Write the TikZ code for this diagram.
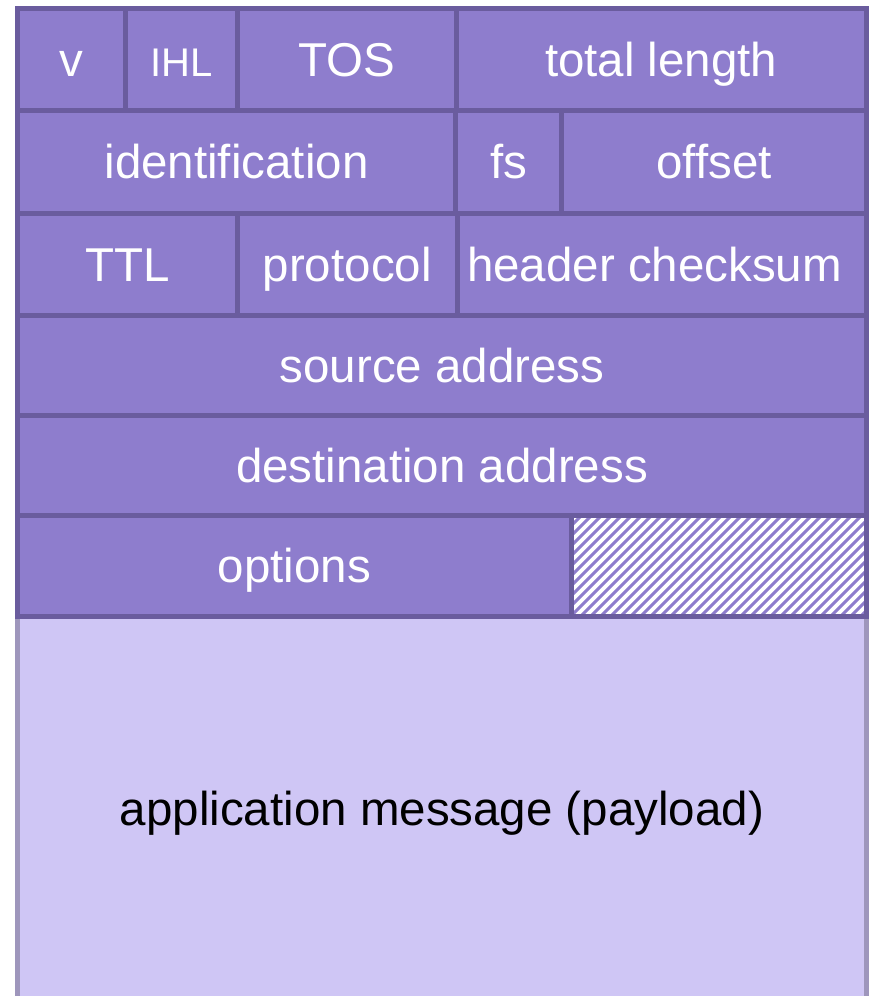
\documentclass[tikz,border=0pt]{standalone}
\usepackage{fontspec}
\setmainfont{Liberation Sans}
\definecolor{cellfill}{HTML}{8E7DCD}
\definecolor{celledge}{HTML}{6A5C9E}
\definecolor{payfill}{HTML}{CFC6F5}
\definecolor{payedge}{HTML}{9E96BC}
\begin{document}
\begin{tikzpicture}[x=1pt,y=-1pt,
  cell/.style={draw=celledge, fill=cellfill, line width=5pt, rectangle, inner sep=0pt, outer sep=0pt,
    anchor=north west, text=white, font=\fontsize{47.5}{57}\selectfont, text height=34pt, text depth=0pt},
  payload/.style={draw=payedge, fill=payfill, line width=5pt, rectangle, inner sep=0pt, outer sep=0pt,
    anchor=north west, text=black, font=\fontsize{47.5}{57}\selectfont, text height=34pt, text depth=0pt},
  hatchcell/.style={cell, fill=white,
    path picture={\foreach \i in {0,...,42}
      \draw[cellfill, line width=3pt] ([xshift=\i*10pt-120pt]path picture bounding box.south west) -- ++(150pt,150pt);}}
]
\useasboundingbox (0,0) rectangle (871,996);
% payload
\node[payload, minimum width=849pt, minimum height=384pt] (pay) at (17.5,616) {application message (payload)};
% row 1
\node[cell, minimum width=108pt, minimum height=102pt] (v) at (17.5,8) {v};
\node[cell, minimum width=112pt, minimum height=102pt, font=\fontsize{40}{48}\selectfont] (ihl) at (125.5,8) {IHL};
\node[cell, minimum width=218.5pt, minimum height=102pt] (tos) at (237.5,8) {TOS};
\node[cell, minimum width=410.5pt, minimum height=102pt] (len) at (456,8) {total length};
% row 2
\node[cell, minimum width=438pt, minimum height=103pt] (ident) at (17.5,110) {identification};
\node[cell, minimum width=106pt, minimum height=103pt] (fs) at (455.5,110) {fs};
\node[cell, minimum width=305pt, minimum height=103pt] (off) at (561.5,110) {offset};
% row 3
\node[cell, minimum width=219.5pt, minimum height=102pt] (ttl) at (17.5,213) {TTL};
\node[cell, minimum width=220.5pt, minimum height=102pt] (proto) at (237,213) {protocol};
\node[cell, minimum width=409pt, minimum height=102pt] (chk) at (457.5,213) {header checksum\hspace*{15pt}};
% row 4, 5
\node[cell, minimum width=849pt, minimum height=100pt] (src) at (17.5,315) {source address};
\node[cell, minimum width=849pt, minimum height=100pt] (dst) at (17.5,415) {destination address};
% row 6
\node[cell, minimum width=553.5pt, minimum height=101pt] (opt) at (17.5,515) {options};
\node[hatchcell, minimum width=295.5pt, minimum height=101pt] (pad) at (571,515) {};
\end{tikzpicture}
\end{document}
